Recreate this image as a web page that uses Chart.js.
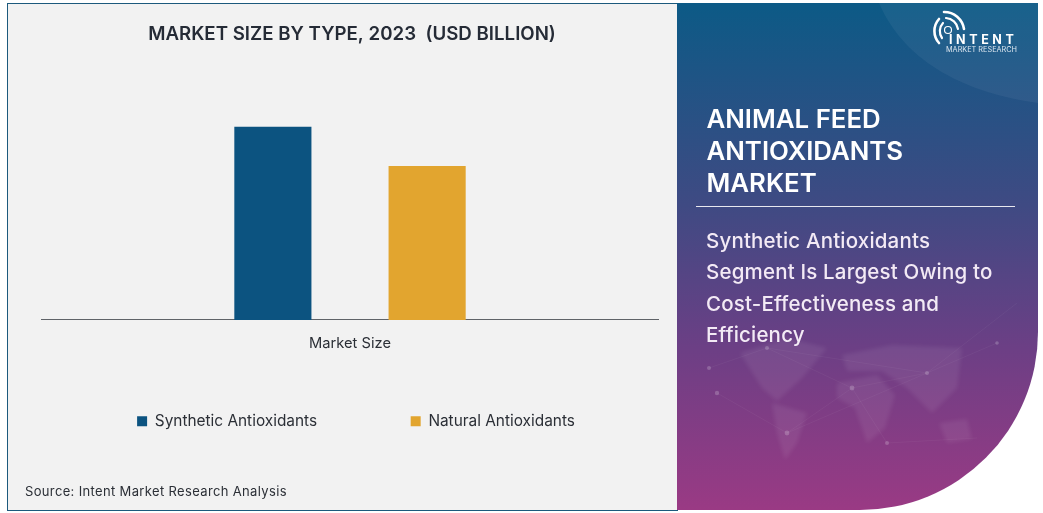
<!DOCTYPE html>
<html><head><meta charset="utf-8">
<script src="https://cdn.jsdelivr.net/npm/chart.js@4"></script>
<style>
html,body{margin:0;padding:0;background:#fff;width:1043px;height:513px;overflow:hidden}
body{position:relative;font-family:Inter,sans-serif}
#left{position:absolute;left:7px;top:3px;width:670px;height:506px;background:#f2f2f2;border:1px solid #1c5a7d;border-right:none;box-sizing:content-box}
#wrap{position:absolute;left:0;top:0;width:670px;height:506px}
#source{position:absolute;left:17px;top:479px;font:400 13px Inter,sans-serif;letter-spacing:.35px;color:#2b2f36;white-space:nowrap}
#right{position:absolute;left:677px;top:3px;width:361px;height:507px;overflow:hidden;color:#fff;
background:linear-gradient(180deg,#0c5a86 0%,#3f4a83 40%,#6c3f85 68%,#9a3a84 100%);border-bottom-right-radius:178px 178px}
#right svg{position:absolute;left:0;top:0}
.h{position:absolute;left:29.5px;font:600 25.8px Inter,sans-serif;white-space:nowrap;line-height:32px}
.s{position:absolute;left:29px;font:500 20.5px Inter,sans-serif;letter-spacing:.18px;color:#f3eaf5;white-space:nowrap;line-height:30px}
#rule{position:absolute;left:19px;top:203px;width:319px;height:1px;background:#e8e8ef}
#lg1{position:absolute;left:272px;top:29px;font:700 12.5px/15px Inter,sans-serif;letter-spacing:3.6px;white-space:nowrap}
#lg2{position:absolute;left:269px;top:41px;font:400 7.3px/11px Inter,sans-serif;white-space:nowrap;color:#dbe6ef}
</style></head><body>
<div id="left">
  <div id="wrap"><canvas id="c" width="670" height="506"></canvas></div>
  <div id="source">Source: Intent Market Research Analysis</div>
</div>
<div id="right">
<svg width="361" height="507" viewBox="0 0 361 507">
  <defs><filter id="b"><feGaussianBlur stdDeviation="2.2"/></filter></defs>
  <path d="M200 -5 C225 60 290 90 361 100 L361 -5 Z" fill="#fff" opacity=".05"/>
  <g fill="#fff" opacity=".07" filter="url(#b)">
    <path d="M63 350 L110 335 L150 345 L125 375 L100 398 L85 385 Z"/>
    <path d="M95 400 L130 410 L120 440 L108 457 L100 430 Z"/>
    <path d="M160 380 L200 372 L218 392 L208 425 L190 440 L178 405 L160 395 Z"/>
    <path d="M165 352 L215 342 L285 345 L280 385 L255 410 L230 385 L205 368 L170 368 Z"/>
    <path d="M262 420 L290 416 L295 436 L270 440 Z"/>
  </g>
  <g stroke="#fff" stroke-width=".5" opacity=".09" fill="none">
    <path d="M32 365 L90 345 L175 385 L250 370 L340 300 M40 390 L110 430 L175 385 L210 440 L300 435 M90 345 L250 370 L320 340 M110 430 L250 370"/>
  </g>
  <g fill="#fff" opacity=".2">
    <circle cx="32" cy="365" r="2"/><circle cx="90" cy="345" r="2"/><circle cx="40" cy="390" r="2.2"/><circle cx="110" cy="430" r="2.4"/><circle cx="175" cy="385" r="2.4"/><circle cx="250" cy="370" r="2"/><circle cx="320" cy="340" r="1.8"/><circle cx="210" cy="440" r="2"/>
  </g>
  <g fill="none" stroke="#fff" stroke-linecap="round">
    <path d="M262 40 A18 18 0 0 1 262 16" stroke-width="2.6"/>
    <path d="M265 35 A12 12 0 0 1 266 20" stroke-width="2.2"/>
    <path d="M267 9 A20 20 0 0 1 287 26" stroke-width="2.6"/>
    <path d="M269 15 A13 13 0 0 1 281 26" stroke-width="2.2"/>
    <circle cx="271" cy="27" r="3.5" stroke-width="1.2"/>
  </g>
</svg>
<div id="lg1">INTENT</div>
<div id="lg2">MARKET RESEARCH</div>
<div class="h" style="top:100px">ANIMAL FEED</div>
<div class="h" style="top:132px">ANTIOXIDANTS</div>
<div class="h" style="top:164px">MARKET</div>
<div id="rule"></div>
<div class="s" style="top:223px">Synthetic Antioxidants</div>
<div class="s" style="top:254px">Segment Is Largest Owing to</div>
<div class="s" style="top:286px">Cost-Effectiveness and</div>
<div class="s" style="top:317px">Efficiency</div>
</div>
<script>
const categories = ["Market Size"];
const syntheticValues = [1.92];
const naturalValues = [1.53];
const seriesNames = ["Synthetic Antioxidants", "Natural Antioxidants"];
const seriesColors = ["#0c5380", "#e2a52f"];
const titleText = "MARKET SIZE BY TYPE, 2023  (USD BILLION)";

const boxShift = {
  id: "boxShift",
  afterLayout(chart) {
    chart.legend.left += 6; chart.legend.right += 6;
    chart.titleBlock.left += 2; chart.titleBlock.right += 2;
  }
};

new Chart(document.getElementById("c"), {
  type: "bar",
  plugins: [boxShift],
  data: {
    labels: categories,
    datasets: [
      {label: seriesNames[0], data: syntheticValues, backgroundColor: seriesColors[0]},
      {label: seriesNames[1], data: naturalValues, backgroundColor: seriesColors[1]}
    ]
  },
  options: {
    responsive: false,
    animation: false,
    layout: {padding: {left: 33.5, right: 19.5, top: 19, bottom: 71}},
    datasets: {bar: {categoryPercentage: .5, barPercentage: .5}},
    scales: {
      x: {
        grid: {display: false, drawTicks: false},
        border: {color: "#5f6368", width: 1},
        ticks: {color: "#2b2f36", padding: 15, font: {family: "Inter", size: 14.7}}
      },
      y: {display: false, min: 0, max: 2.53}
    },
    plugins: {
      title: {display: true, text: titleText, color: "#252b36",
        font: {family: "Inter", size: 18.7, weight: "600"}, padding: {top: 0, bottom: 20}},
      legend: {position: "bottom",
        labels: {boxWidth: 10, boxHeight: 10, padding: 46, color: "#2b2f36", font: {family: "Inter", size: 15.4},
          generateLabels(chart) {
            const items = Chart.defaults.plugins.legend.labels.generateLabels(chart);
            items[0].text += "           ";
            return items;
          }}},
      tooltip: {enabled: false}
    }
  }
});
</script>
</body></html>
